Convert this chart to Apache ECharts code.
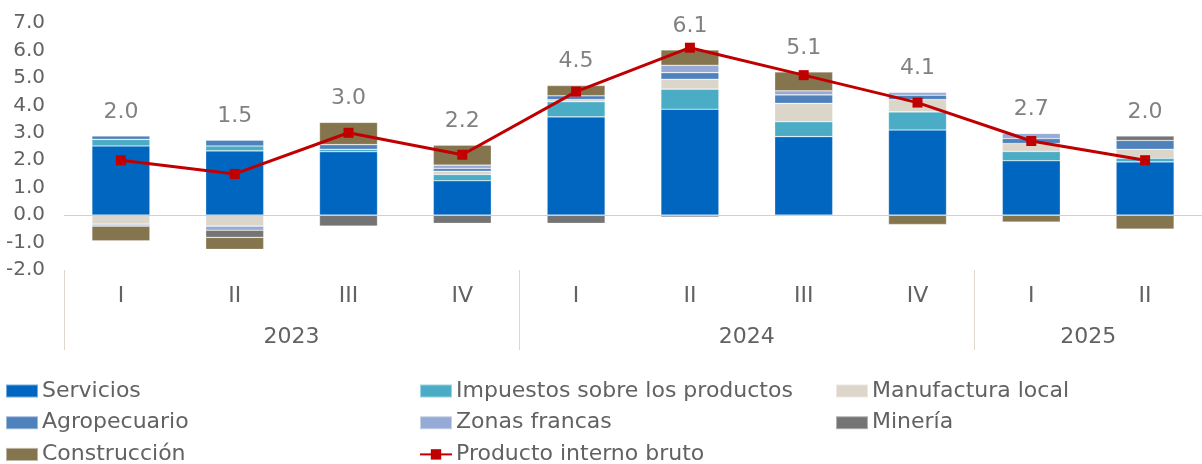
<!DOCTYPE html>
<html>
<head>
<meta charset="utf-8">
<script src="https://cdn.jsdelivr.net/npm/echarts@6/dist/echarts.min.js"></script>
<style>
  html, body { margin: 0; padding: 0; background: #fff; }
  #chart { width: 1202px; height: 464px; }
</style>
</head>
<body>
<div id="chart"></div>
<script>
// trimestres y años
var quarters = ['I', 'II', 'III', 'IV', 'I', 'II', 'III', 'IV', 'I', 'II'];
var years = ['2023', '2024', '2025'];
var yearCenters = [2, 6, 9];
var yearBounds = [0, 4, 8];

// contribuciones por actividad (puntos porcentuales)
var servicios    = [2.52, 2.34, 2.31, 1.25, 3.58, 3.86, 2.86, 3.10, 1.98, 1.94];
var impuestos    = [0.24, 0.18, 0.09, 0.23, 0.55, 0.73, 0.54, 0.66, 0.34, 0.13];
var manufactura  = [-0.33, -0.40, 0, 0.12, 0.08, 0.36, 0.67, 0.45, 0.29, 0.33];
var agropecuario = [0.12, 0.21, 0.17, 0.10, 0.14, 0.24, 0.31, 0.16, 0.18, 0.32];
var zonasFrancas = [-0.07, -0.15, 0, 0.12, 0, 0.27, 0.15, 0.11, 0.19, 0];
var mineria      = [0, -0.26, -0.40, -0.30, -0.30, -0.07, 0, 0, 0, 0.16];
var construccion = [-0.54, -0.44, 0.81, 0.73, 0.37, 0.56, 0.69, -0.34, -0.25, -0.51];
var pib          = [2.0, 1.5, 3.0, 2.2, 4.5, 6.1, 5.1, 4.1, 2.7, 2.0];

var textColor = '#626262';
var font = 'DejaVu Sans';

var barDefs = [
    {name: 'Servicios', data: servicios, color: '#0066c0'},
    {name: 'Impuestos sobre los productos', data: impuestos, color: '#4bacc6'},
    {name: 'Manufactura local', data: manufactura, color: '#dcd5ca'},
    {name: 'Agropecuario', data: agropecuario, color: '#4f81bd'},
    {name: 'Zonas francas', data: zonasFrancas, color: '#95abd5'},
    {name: 'Minería', data: mineria, color: '#747474'},
    {name: 'Construcción', data: construccion, color: '#85754e'}
];

// altura de la parte positiva de cada barra (para ubicar la etiqueta del PIB)
var positiveTop = quarters.map(function (q, i) {
    var s = 0;
    barDefs.forEach(function (b) {
        if (b.data[i] > 0) s += b.data[i];
    });
    return s;
});

var series = barDefs.map(function (b, idx) {
    var s = {
        name: b.name,
        type: 'bar',
        stack: 'total',
        barWidth: 58,
        data: b.data,
        itemStyle: {
            color: b.color,
            borderColor: 'rgba(255,255,255,0.45)',
            borderWidth: 0.6
        }
    };
    if (idx === 0) {
        s.markLine = {
            silent: true,
            symbol: 'none',
            label: {show: false},
            lineStyle: {color: '#d8d0c6', width: 1, type: 'solid'},
            data: [{yAxis: 0}]
        };
    }
    return s;
});

series.push({
    name: 'Producto interno bruto',
    type: 'line',
    data: pib,
    color: '#c00000',
    lineStyle: {width: 3, color: '#c00000'},
    symbol: 'rect',
    symbolSize: 10,
    itemStyle: {color: '#c00000'},
    z: 5
});

series.push({
    name: 'etiquetas',
    type: 'scatter',
    data: positiveTop,
    symbolSize: 0,
    silent: true,
    z: 6,
    label: {
        show: true,
        position: 'top',
        distance: 13,
        fontFamily: font,
        fontSize: 22,
        color: textColor,
        formatter: function (p) {
            return pib[p.dataIndex].toFixed(1);
        }
    }
});

function legendCol(left, names) {
    return {
        data: names.map(function (n) {
            return n === 'Producto interno bruto' ? {name: n} : {name: n, icon: 'rect'};
        }),
        orient: 'vertical',
        left: left,
        top: 380,
        height: 120,
        padding: 0,
        itemWidth: 32,
        itemHeight: 13,
        itemGap: 9.7,
        textStyle: {fontFamily: font, fontSize: 22, color: textColor, lineHeight: 22, padding: [0, 0, 0, -1]}
    };
}

var chart = echarts.init(document.getElementById('chart'));

var option = {
    animation: false,
    backgroundColor: '#ffffff',
    grid: {left: 64, right: -15, top: 23, bottom: 194},
    legend: [
        legendCol(5, ['Servicios', 'Agropecuario', 'Construcción']),
        legendCol(419, ['Impuestos sobre los productos', 'Zonas francas', 'Producto interno bruto']),
        legendCol(835, ['Manufactura local', 'Minería'])
    ],
    xAxis: [
        {
            type: 'category',
            data: quarters,
            position: 'bottom',
            axisLine: {show: false, onZero: false},
            axisTick: {show: false},
            axisLabel: {fontFamily: font, fontSize: 22, color: textColor, margin: 15}
        },
        {
            type: 'value',
            min: 0,
            max: 10,
            position: 'bottom',
            axisLine: {show: false, onZero: false},
            splitLine: {show: false},
            axisTick: {
                show: true,
                customValues: yearBounds,
                length: 80,
                lineStyle: {color: '#ddd7ce', width: 1}
            },
            axisLabel: {
                customValues: yearCenters,
                fontFamily: font,
                fontSize: 22,
                color: textColor,
                margin: 56,
                formatter: function (v) {
                    return years[yearCenters.indexOf(v)];
                }
            }
        }
    ],
    yAxis: {
        type: 'value',
        min: -2,
        max: 7,
        interval: 1,
        axisLine: {show: false},
        axisTick: {show: false},
        splitLine: {show: false},
        axisLabel: {
            fontFamily: font,
            fontSize: 20,
            color: textColor,
            margin: 19,
            formatter: function (v) {
                return v.toFixed(1);
            }
        }
    },
    series: series
};

chart.setOption(option);
</script>
</body>
</html>
